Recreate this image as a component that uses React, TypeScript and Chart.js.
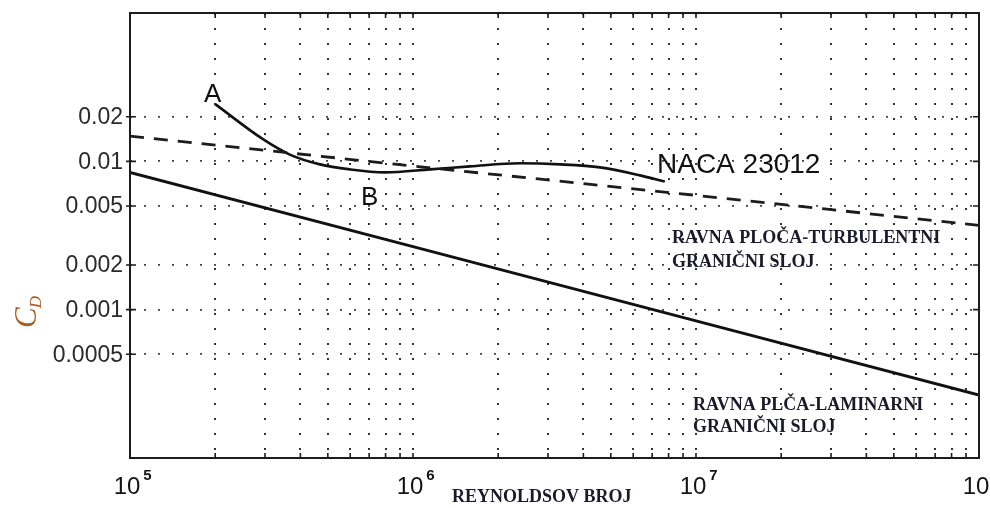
import React, { useEffect, useRef } from "react";
import { Chart, registerables } from "chart.js";

Chart.register(...registerables);

// ---- data ----
const laminarRe = [1e5, 1e6, 1e7, 1e8];
const laminarCd = [0.0084, 0.00266, 0.00084, 0.000266];

const turbulentRe = [1e5, 1e6, 1e7, 1e8];
const turbulentCd = [0.0148, 0.0093, 0.0059, 0.0037];

const nacaRe = [2.0e5, 2.95e5, 3.67e5, 4.69e5, 5.98e5, 7.96e5, 1.15e6, 1.59e6, 2.39e6, 3.31e6, 4.58e6, 6.34e6, 7.76e6];
const nacaCd = [0.0243, 0.0141, 0.0111, 0.00954, 0.00883, 0.00843, 0.00883, 0.00925, 0.0097, 0.00954, 0.0091, 0.00804, 0.0073];

const yTickValues = [0.0005, 0.001, 0.002, 0.005, 0.01, 0.02];
const yTickLabels = ["0.0005", "0.001", "0.002", "0.005", "0.01", "0.02"];

const xMajorValues = [1e5, 1e6, 1e7, 1e8];
const xMajorExponents = ["5", "6", "7", "8"];
const xGridValues = [
  1e5, 2e5, 3e5, 4e5, 5e5, 6e5, 7e5, 8e5, 9e5,
  1e6, 2e6, 3e6, 4e6, 5e6, 6e6, 7e6, 8e6, 9e6,
  1e7, 2e7, 3e7, 4e7, 5e7, 6e7, 7e7, 8e7, 9e7,
  1e8,
];

const SANS = "'Liberation Sans', Arial, sans-serif";
const SERIF = "'Liberation Serif', 'Times New Roman', serif";

const decorPlugin = {
  id: "decor",
  afterDraw(chart: any) {
    const { ctx, chartArea: a, scales } = chart;
    const xs = scales.x;
    const ys = scales.y;
    ctx.save();

    // frame
    ctx.strokeStyle = "#1c1c1c";
    ctx.lineWidth = 2;
    ctx.strokeRect(a.left, a.top, a.right - a.left, a.bottom - a.top);

    // x tick marks (inward, top and bottom)
    ctx.lineWidth = 1.6;
    ctx.beginPath();
    for (const v of xGridValues) {
      const px = xs.getPixelForValue(v);
      ctx.moveTo(px, a.bottom);
      ctx.lineTo(px, a.bottom - 5);
      ctx.moveTo(px, a.top);
      ctx.lineTo(px, a.top + 5);
    }
    // y tick marks
    for (const v of yTickValues) {
      const py = ys.getPixelForValue(v);
      ctx.moveTo(a.left - 4, py);
      ctx.lineTo(a.left + 6, py);
      ctx.moveTo(a.right - 6, py);
      ctx.lineTo(a.right, py);
    }
    ctx.stroke();

    // y tick labels
    ctx.fillStyle = "#2a2a2a";
    ctx.font = `23px ${SANS}`;
    ctx.textAlign = "right";
    ctx.textBaseline = "middle";
    yTickValues.forEach((v, i) => {
      ctx.fillText(yTickLabels[i], a.left - 7, ys.getPixelForValue(v) + 1);
    });

    // x tick labels 10^n
    ctx.textBaseline = "alphabetic";
    xMajorValues.forEach((v, i) => {
      const px = xs.getPixelForValue(v);
      ctx.font = `24px ${SANS}`;
      ctx.textAlign = "center";
      ctx.fillStyle = "#141414";
      const w = ctx.measureText("10").width;
      const cx = px - 3;
      ctx.fillText("10", cx, a.bottom + 36);
      ctx.font = `bold 15px ${SANS}`;
      ctx.textAlign = "left";
      ctx.fillText(xMajorExponents[i], cx + w / 2 + 3, a.bottom + 22);
    });

    // x axis title
    ctx.fillStyle = "#1a1a2a";
    ctx.font = `bold 18px ${SERIF}`;
    ctx.textAlign = "left";
    ctx.fillText("REYNOLDSOV BROJ", 452, 502);

    // y axis title C_D (rotated)
    ctx.save();
    ctx.translate(36, 328);
    ctx.rotate(-Math.PI / 2);
    ctx.fillStyle = "#a95e25";
    ctx.font = `italic 31px ${SERIF}`;
    ctx.textAlign = "left";
    ctx.fillText("C", 0, 0);
    const cw = ctx.measureText("C").width;
    ctx.font = `italic 17px ${SERIF}`;
    ctx.fillText("D", cw - 1, 5);
    ctx.restore();

    // curve annotations
    ctx.fillStyle = "#111";
    ctx.font = `26px ${SANS}`;
    ctx.textAlign = "left";
    ctx.fillText("A", 204, 102);
    ctx.fillText("B", 361, 205);
    ctx.font = `28px ${SANS}`;
    ctx.fillText("NACA 23012", 657, 173);

    ctx.fillStyle = "#1a1a2a";
    ctx.font = `bold 18px ${SERIF}`;
    ctx.fillText("RAVNA PLOČA-TURBULENTNI", 672, 243);
    ctx.fillText("GRANIČNI SLOJ", 672, 267);
    ctx.fillText("RAVNA PLČA-LAMINARNI", 693, 410);
    ctx.fillText("GRANIČNI SLOJ", 693, 432);

    ctx.restore();
  },
};

export default function App() {
  const canvasRef = useRef<HTMLCanvasElement | null>(null);

  useEffect(() => {
    if (!canvasRef.current) return;
    const toPoints = (xs: number[], ys: number[]) => xs.map((x, i) => ({ x, y: ys[i] }));
    const chart = new Chart(canvasRef.current, {
      type: "line",
      data: {
        datasets: [
          {
            label: "Laminarni",
            data: toPoints(laminarRe, laminarCd),
            borderColor: "#111",
            borderWidth: 3,
            pointRadius: 0,
            tension: 0,
          },
          {
            label: "Turbulentni",
            data: toPoints(turbulentRe, turbulentCd),
            borderColor: "#1c1c1c",
            borderWidth: 2.8,
            borderDash: [14, 10],
            pointRadius: 0,
            tension: 0,
          },
          {
            label: "NACA 23012",
            data: toPoints(nacaRe, nacaCd),
            borderColor: "#111",
            borderWidth: 2.6,
            pointRadius: 0,
            cubicInterpolationMode: "monotone",
          },
        ],
      },
      options: {
        responsive: false,
        animation: false,
        events: [],
        layout: { padding: { left: 130, right: 11, top: 13, bottom: 50 } },
        plugins: {
          legend: { display: false },
          tooltip: { enabled: false },
        },
        scales: {
          x: {
            type: "logarithmic",
            min: 1e5,
            max: 1e8,
            afterBuildTicks: (scale: any) => {
              scale.ticks = xGridValues.map((v) => ({ value: v }));
            },
            ticks: { display: false },
            grid: { color: "#333", lineWidth: 2, drawTicks: false },
            border: { display: false, dash: [2, 13] },
          },
          y: {
            type: "logarithmic",
            min: 1e-4,
            max: 0.1,
            afterBuildTicks: (scale: any) => {
              scale.ticks = yTickValues.map((v) => ({ value: v }));
            },
            ticks: { display: false },
            grid: { color: "#444", lineWidth: 1.8, drawTicks: false },
            border: { display: false, dash: [2, 12] },
          },
        },
      },
      plugins: [decorPlugin],
    } as any);
    return () => chart.destroy();
  }, []);

  return (
    <div style={{ position: "absolute", left: 0, top: 0, width: 990, height: 508, background: "#fff" }}>
      <canvas ref={canvasRef} width={990} height={508} />
    </div>
  );
}
